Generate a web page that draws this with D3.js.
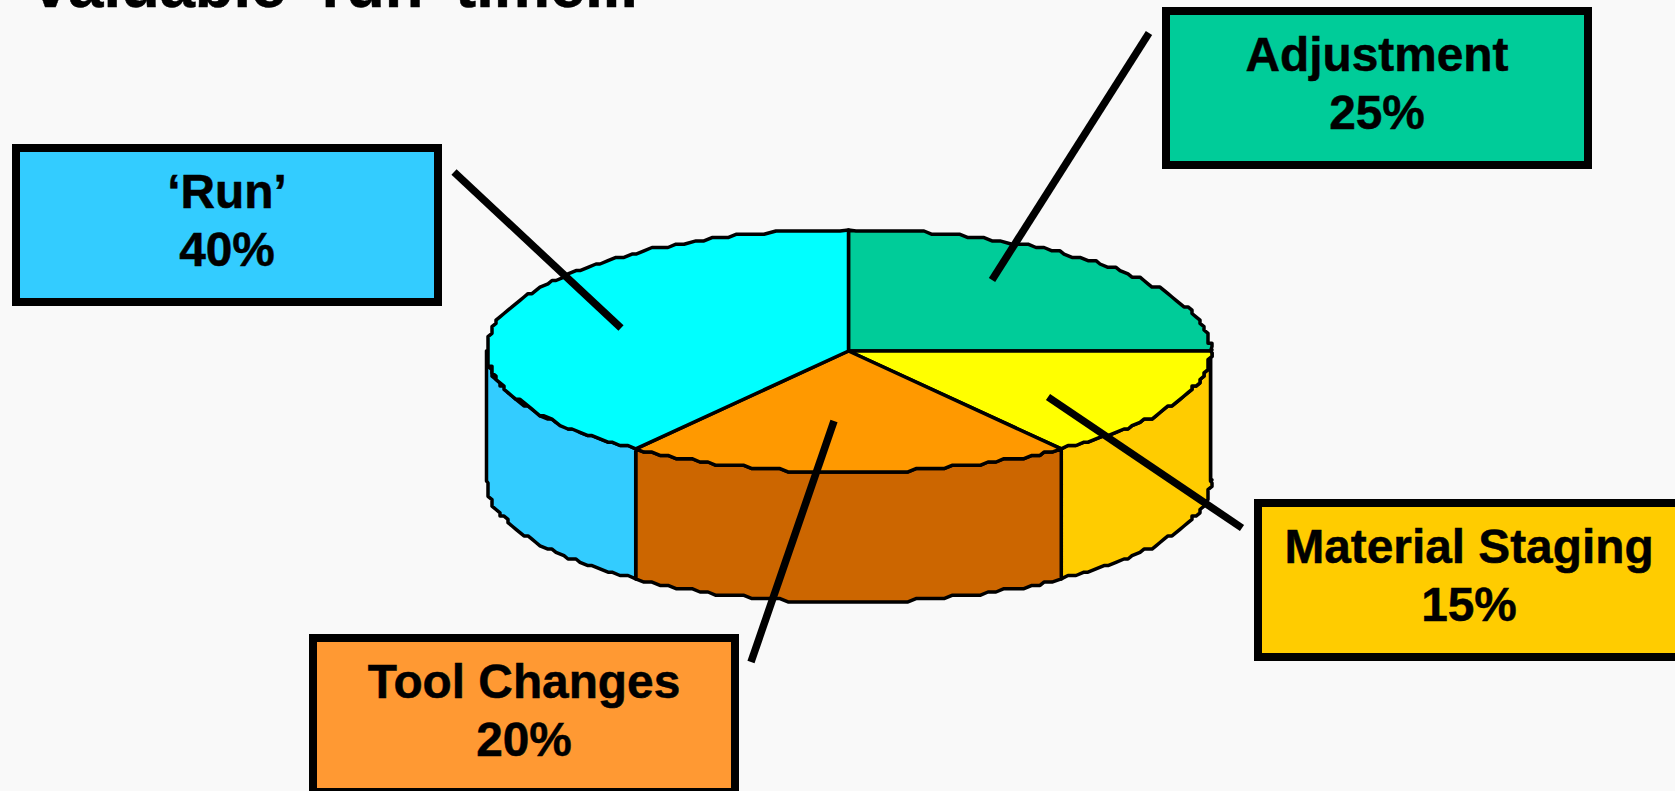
<!DOCTYPE html>
<html>
<head>
<meta charset="utf-8">
<script src="https://d3js.org/d3.v7.min.js"></script>
<style>
  html, body { margin: 0; padding: 0; background: #f9f9f9; overflow: hidden; }
  text { font-family: "Liberation Sans", Arial, sans-serif; font-weight: bold; fill: #000; stroke: #000; stroke-width: 0.5px; }
</style>
</head>
<body>
<div id="chart"></div>
<script>
const F_WIDTH = 1675;
const F_HEIGHT = 791;

// chart data, clockwise from 12 o'clock
const CATEGORIES = ["Adjustment", "Material Staging", "Tool Changes", "\u2018Run\u2019"];
const VALUES = [25, 15, 20, 40];
const TOP_COLORS = ["#00cc99", "#ffff00", "#ff9900", "#00ffff"];
const WALL_COLORS = ["#00cc99", "#ffcc00", "#cc6600", "#33ccff"];
const BOX_COLORS = ["#00cc99", "#ffcc00", "#ff9933", "#33ccff"];
const TITLE = "valuable \u2018run\u2019 time...";

// pie geometry
const PIE = {cx: 848.5, cy: 351, rx: 362, ry: 121, depth: 130};
const STEP_X = 4;    // outline is wobbly like the old metafile
const STEP_Y = 3.3;
const RIM_STEP = 0.026;  // radians between outline points

// label boxes and leader lines (same order as CATEGORIES)
const BOX_X = [1162, 1254, 309, 12];
const BOX_Y = [7, 499, 634, 144];
const BOX_W = 430;
const BOX_H = 162;
const LEADERS = [
  [[1149, 33], [992, 280]],
  [[1242, 528], [1048, 397]],
  [[751, 662], [834, 421]],
  [[454, 172], [621, 328]]
];

const SVG = d3.select("#chart")
  .append("svg")
    .attr("width", F_WIDTH)
    .attr("height", F_HEIGHT)
    .style("display", "block");

const X_SCALE = d3.scaleLinear().domain([-1, 1]).range([PIE.cx - PIE.rx, PIE.cx + PIE.rx]);
const Y_SCALE = d3.scaleLinear().domain([-1, 1]).range([PIE.cy - PIE.ry, PIE.cy + PIE.ry]);

const slices = d3.pie().sort(null)(VALUES);

// points on the rim between two angles, snapped to the coarse grid
function rim(a0, a1, dy) {
  const n = Math.max(2, Math.ceil(Math.abs(a1 - a0) / RIM_STEP));
  const pts = [];
  for (let i = 0; i <= n; i++) {
    const a = a0 + (a1 - a0) * i / n;
    const x = i === 0 || i === n ? X_SCALE(Math.sin(a)) : Math.round(X_SCALE(Math.sin(a)) / STEP_X) * STEP_X;
    const y = i === 0 || i === n ? Y_SCALE(-Math.cos(a)) : Math.round(Y_SCALE(-Math.cos(a)) / STEP_Y) * STEP_Y;
    pts.push([x, y + dy]);
  }
  return pts;
}

const line = d3.line();

// side walls first, only the front half of the pie is visible
SVG.append("g").selectAll("path")
  .data(slices)
  .enter()
  .append("path")
    .attr("d", (d) => {
      const a0 = Math.max(d.startAngle, Math.PI / 2);
      const a1 = Math.min(d.endAngle, 3 * Math.PI / 2);
      if (a1 <= a0) return null;
      return line(rim(a0, a1, 0).concat(rim(a1, a0, PIE.depth))) + "Z";
    })
    .attr("fill", (d, i) => WALL_COLORS[i])
    .attr("stroke", "#000")
    .attr("stroke-width", 3.5)
    .attr("stroke-linejoin", "round");

// top of the pie
SVG.append("g").selectAll("path")
  .data(slices)
  .enter()
  .append("path")
    .attr("d", (d) => {
      return line([[PIE.cx, PIE.cy]].concat(rim(d.startAngle, d.endAngle, 0))) + "Z";
    })
    .attr("fill", (d, i) => TOP_COLORS[i])
    .attr("stroke", "#000")
    .attr("stroke-width", 3.5)
    .attr("stroke-linejoin", "round");

// leader lines sit over the pie
SVG.append("g").selectAll("path")
  .data(LEADERS)
  .enter()
  .append("path")
    .attr("d", (d) => line(d))
    .attr("fill", "none")
    .attr("stroke", "#000")
    .attr("stroke-width", 7.5);

// label boxes
const BOXES = SVG.append("g").selectAll("g")
  .data(CATEGORIES)
  .enter()
  .append("g")
    .attr("transform", (d, i) => "translate(" + BOX_X[i] + "," + BOX_Y[i] + ")");

BOXES.append("rect")
    .attr("x", 4)
    .attr("y", 4)
    .attr("width", BOX_W - 8)
    .attr("height", BOX_H - 8)
    .attr("fill", (d, i) => BOX_COLORS[i])
    .attr("stroke", "#000")
    .attr("stroke-width", 8);

BOXES.append("text")
    .attr("x", BOX_W / 2)
    .attr("y", 64)
    .attr("text-anchor", "middle")
    .style("font-size", "47.8px")
    .text((d) => d);

BOXES.append("text")
    .attr("x", BOX_W / 2)
    .attr("y", 122)
    .attr("text-anchor", "middle")
    .style("font-size", "47.8px")
    .text((d, i) => VALUES[i] + "%");

// title, cut off by the top of the page
SVG.append("text")
    .attr("x", 33)
    .attr("y", 7)
    .style("font-size", "63.3px")
    .text(TITLE);
</script>
</body>
</html>
